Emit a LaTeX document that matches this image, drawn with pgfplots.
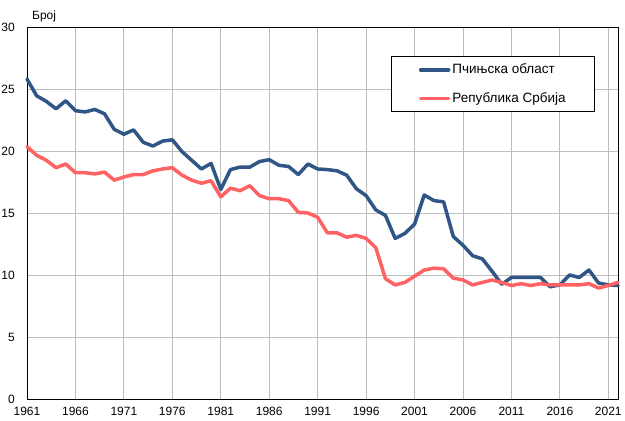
\documentclass[border=0pt]{standalone}
\usepackage{pgfplots}
\pgfplotsset{compat=1.18}
\usepackage{fontspec}
\setmainfont{Liberation Sans}
\definecolor{pblue}{HTML}{2F5686}
\definecolor{pred}{HTML}{FF6262}
\definecolor{gridc}{HTML}{BEBEBE}
\begin{document}
\fontsize{12pt}{14pt}\selectfont
\begin{tikzpicture}
\begin{axis}[
  scale only axis,
  width=591pt, height=372pt,
  xmin=1961, xmax=2022, ymin=0, ymax=30,
  xtick={1961,1966,...,2021},
  ytick={0,5,...,30},
  major tick length=0pt,
  grid=major,
  major grid style={gridc, line width=0.8pt},
  axis line style={black, line width=0.9pt},
  /pgf/number format/assume math mode=true,
  /pgf/number format/set thousands separator={},
  xticklabel style={font=\fontsize{12pt}{14pt}\selectfont, yshift=-4pt},
  yticklabel style={font=\fontsize{12pt}{14pt}\selectfont, xshift=-8pt},
  legend cell align=left,
  legend style={at={(axis description cs:0.961,0.922)}, anchor=north east,
    draw=black, line width=0.8pt, fill=white,
    inner xsep=27pt, inner ysep=5.5pt, row sep=13pt,
    font=\fontsize{13.5pt}{15pt}\selectfont},
  legend image code/.code={\draw[#1, line width=3.5pt] (0pt,0pt) -- (28pt,0pt);},
  every axis plot/.append style={line width=3.5pt, line join=round, line cap=round},
  clip=false,
]
\addplot[pblue, mark=none] coordinates {
(1961,25.8)(1962,24.45)(1963,24.0)(1964,23.4)(1965,24.05)(1966,23.25)(1967,23.15)(1968,23.35)(1969,23.0)(1970,21.75)
(1971,21.35)(1972,21.7)(1973,20.7)(1974,20.4)(1975,20.8)(1976,20.9)(1977,19.95)(1978,19.25)(1979,18.55)(1980,19.0)
(1981,16.9)(1982,18.5)(1983,18.7)(1984,18.7)(1985,19.15)(1986,19.3)(1987,18.85)(1988,18.75)(1989,18.1)(1990,18.95)
(1991,18.55)(1992,18.5)(1993,18.4)(1994,18.05)(1995,16.95)(1996,16.4)(1997,15.25)(1998,14.8)(1999,12.95)(2000,13.35)
(2001,14.1)(2002,16.45)(2003,16.0)(2004,15.9)(2005,13.1)(2006,12.4)(2007,11.55)(2008,11.3)(2009,10.3)(2010,9.25)
(2011,9.8)(2012,9.8)(2013,9.8)(2014,9.8)(2015,9.05)(2016,9.2)(2017,10.0)(2018,9.8)(2019,10.4)(2020,9.35)
(2021,9.2)(2022,9.15)
};
\addlegendentry{Пчињска област}
\addplot[pred, mark=none] coordinates {
(1961,20.35)(1962,19.65)(1963,19.25)(1964,18.65)(1965,18.95)(1966,18.25)(1967,18.25)(1968,18.15)(1969,18.3)(1970,17.65)
(1971,17.9)(1972,18.1)(1973,18.1)(1974,18.4)(1975,18.55)(1976,18.65)(1977,18.05)(1978,17.65)(1979,17.4)(1980,17.6)
(1981,16.3)(1982,17.0)(1983,16.8)(1984,17.2)(1985,16.4)(1986,16.15)(1987,16.15)(1988,16.0)(1989,15.05)(1990,15.0)
(1991,14.65)(1992,13.4)(1993,13.4)(1994,13.05)(1995,13.2)(1996,12.95)(1997,12.2)(1998,9.7)(1999,9.2)(2000,9.4)
(2001,9.9)(2002,10.4)(2003,10.55)(2004,10.5)(2005,9.75)(2006,9.6)(2007,9.2)(2008,9.4)(2009,9.6)(2010,9.4)
(2011,9.15)(2012,9.3)(2013,9.15)(2014,9.3)(2015,9.2)(2016,9.2)(2017,9.2)(2018,9.2)(2019,9.3)(2020,8.95)
(2021,9.15)(2022,9.4)
};
\addlegendentry{Република Србија}
\node[anchor=base west, inner sep=0pt, font=\fontsize{12pt}{14pt}\selectfont] at ([xshift=5pt, yshift=7pt]rel axis cs:0,1) {Број};
\end{axis}
\pgfresetboundingbox
\path (current axis.south west) ++(-27pt,-22pt) coordinate (bbA);
\path (current axis.north east) ++(7pt,27pt) coordinate (bbB);
\useasboundingbox (bbA) rectangle (bbB);
\end{tikzpicture}
\end{document}
